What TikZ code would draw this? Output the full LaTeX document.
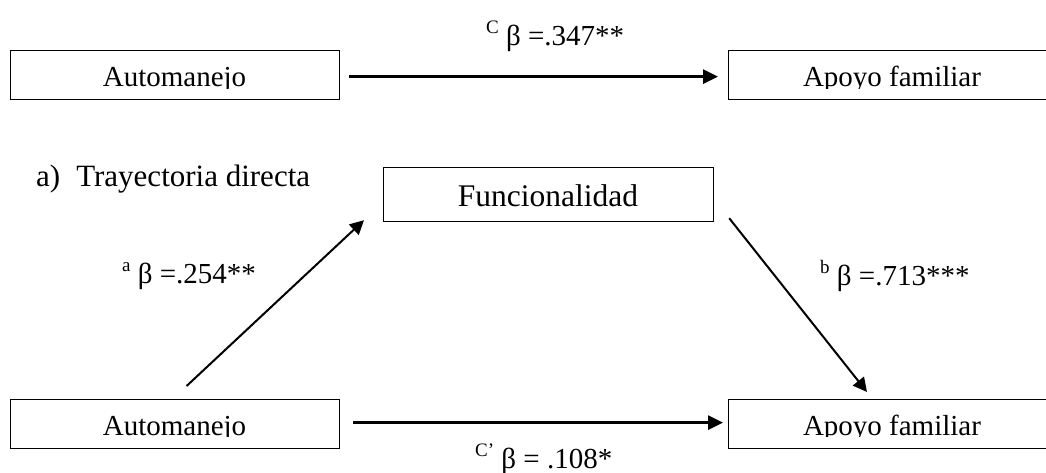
\documentclass[tikz,border=0pt]{standalone}
\usepackage{fontspec}
\setmainfont{Liberation Serif}
\usetikzlibrary{arrows.meta}
% small raised index letter in front of each coefficient
\newcommand\idx[1]{\raisebox{12pt}{\fontsize{19}{19}\selectfont #1}}
\begin{document}
\begin{tikzpicture}[x=1pt,y=-1pt,
  varbox/.style={draw, line width=1.2pt, minimum width=329pt, minimum height=49pt,
                 inner sep=0pt, anchor=north west},
  boxtext/.style={font=\fontsize{29}{29}\selectfont, inner sep=0pt, anchor=base},
  flow/.style={line width=3pt, -{Triangle[length=15pt,width=14pt]}},
  diag/.style={line width=2pt, -{Triangle[length=14pt,width=14pt]}},
  coef/.style={font=\fontsize{29}{29}\selectfont, inner sep=0pt, anchor=base west}]
\useasboundingbox (0,0) rectangle (1046,473);
\fill[white] (0,0) rectangle (1046,473);

% variable boxes
\node[varbox] (A1) at (10,50) {};
\node[varbox] (Y1) at (728,50) {};
\node[varbox, minimum width=330pt, minimum height=54pt] (F) at (383,167) {};
\node[varbox] (A2) at (10,399) {};
\node[varbox] (Y2) at (728,399) {};

% box captions (descenders cut at the baseline)
\begin{scope}
  \clip (0,0) rectangle (1046,88.5);
  \node[boxtext] (A1t) at (174.5,87) {Automanejo};
  \node[boxtext] (Y1t) at (892,87) {Apoyo familiar};
\end{scope}
\begin{scope}
  \clip (0,380) rectangle (1046,436.5);
  \node[boxtext] (A2t) at (174.5,435) {Automanejo};
  \node[boxtext] (Y2t) at (892,435) {Apoyo familiar};
\end{scope}
\node[boxtext, font=\fontsize{31.5}{31.5}\selectfont] (Ft) at (548,207) {Funcionalidad};

% panel title
\node[coef, font=\fontsize{31}{31}\selectfont] (title) at (36,186)
  {a)\hspace{16pt}Trayectoria directa};

% paths
\draw[flow] ([shift={(9,1.5)}]A1.east) -- ([shift={(-10,1.5)}]Y1.west);
\draw[flow] ([shift={(13,-1.5)}]A2.east) -- ([shift={(-5,-1.5)}]Y2.west);
\draw[diag] ([shift={(11.5,-13)}]A2.north) -- ([shift={(-19,-2)}]F.south west);
\draw[diag] ([shift={(15,-4)}]F.south east) -- ([shift={(139,-7)}]Y2.north west);

% coefficients
\node[coef] (labc)  at (486,46)  {\idx{C} β =.347**};
\node[coef] (laba)  at (122,283) {\idx{a} β =.254**};
\node[coef] (labb)  at (820,285) {\idx{b} β =.713***};
\node[coef] (labcp) at (475,468) {\idx{C’} β = .108*};
\end{tikzpicture}
\end{document}
